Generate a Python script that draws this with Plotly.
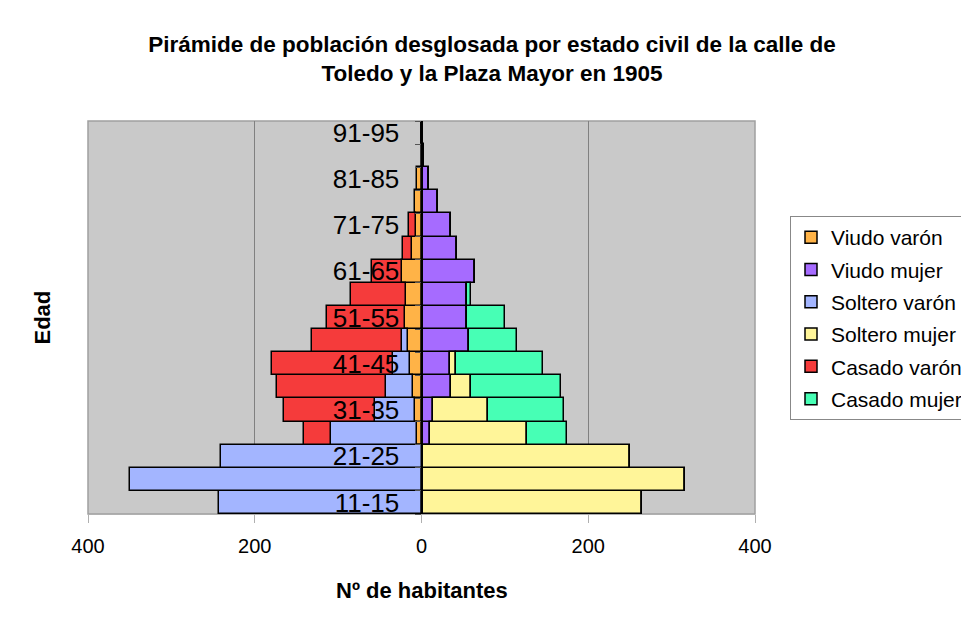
import plotly.graph_objects as go

categories = ["11-15", "16-20", "21-25", "26-30", "31-35", "36-40", "41-45", "46-50",
              "51-55", "56-60", "61-65", "66-70", "71-75", "76-80", "81-85", "86-90", "91-95"]
shown_labels = ["11-15", "21-25", "31-35", "41-45", "51-55", "61-65", "71-75", "81-85", "91-95"]

viudo_varon    = [0, 0, 0, 6, 8, 10, 14, 16, 20, 18, 23, 11, 7, 8, 5, 0, 0]
viudo_mujer    = [0, 1, 2, 10, 14, 35, 34, 57, 54, 54, 64, 43, 35, 20, 9, 3, 0]
soltero_varon  = [243, 350, 240, 103, 48, 33, 20, 7, 0, 0, 0, 0, 0, 0, 0, 0, 0]
soltero_mujer  = [265, 315, 248, 117, 66, 24, 7, 0, 0, 0, 0, 0, 0, 0, 0, 0, 0]
casado_varon   = [0, 0, 0, 32, 109, 130, 145, 108, 93, 67, 36, 11, 8, 0, 0, 0, 0]
casado_mujer   = [0, 0, 0, 47, 91, 108, 105, 57, 46, 5, 0, 0, 0, 0, 0, 0, 0]

x_tickvals = [-400, -200, 0, 200, 400]
x_ticktext = ["400", "200", "0", "200", "400"]

series = [
    ("Viudo varón", viudo_varon, -1, "#FFB347"),
    ("Viudo mujer", viudo_mujer, 1, "#A66BFF"),
    ("Soltero varón", soltero_varon, -1, "#A3B5FF"),
    ("Soltero mujer", soltero_mujer, 1, "#FFF599"),
    ("Casado varón", casado_varon, -1, "#F53B3B"),
    ("Casado mujer", casado_mujer, 1, "#47FFB5"),
]

fig = go.Figure()
for name, vals, sign, color in series:
    fig.add_trace(go.Bar(
        y=categories, x=[sign * v for v in vals], name=name, orientation="h",
        legendgroup=name,
        marker=dict(color=color, line=dict(color="black", width=1.5)),
    ))

W, H = 961, 617
L, R, T, B = 88, 206, 121, 103
pw, ph = W - L - R, H - T - B

fig.update_layout(
    width=W, height=H,
    barmode="relative", bargap=0,
    paper_bgcolor="white", plot_bgcolor="#C9C9C9",
    margin=dict(l=L, r=R, t=T, b=B, autoexpand=False),
    font=dict(family="Liberation Sans, Arial, sans-serif", color="black"),
    title=dict(
        text="<b>Pirámide de población desglosada por estado civil de la calle de<br>Toledo y la Plaza Mayor en 1905</b>",
        x=492 / W, xanchor="center", xref="container",
        y=1 - 52 / H, yanchor="top", yref="container",
        font=dict(size=22.5, family="Liberation Sans, Arial, sans-serif"),
    ),
    legend=dict(
        x=(790 - L) / pw, xanchor="left", y=(H - B - 216) / ph, yanchor="top",
        bgcolor="white", bordercolor="#888888", borderwidth=1,
        font=dict(size=21, family="Liberation Sans, Arial, sans-serif"),
        traceorder="grouped", tracegroupgap=2,
    ),
    xaxis=dict(
        range=[-400, 400], tickvals=x_tickvals, ticktext=x_ticktext,
        showgrid=True, gridcolor="#808080", gridwidth=1,
        zeroline=True, zerolinecolor="black", zerolinewidth=2,
        showline=True, linecolor="#B0B0B0", linewidth=1,
        ticks="outside", ticklen=8, tickcolor="#B0B0B0",
        tickfont=dict(size=20, family="Liberation Sans, Arial, sans-serif"),
        ticklabelstandoff=6,
    ),
    yaxis=dict(
        type="category", categoryorder="array", categoryarray=categories,
        anchor="free", position=0.5,
        tickvals=categories,
        ticktext=[c if c in shown_labels else "" for c in categories],
        tickson="boundaries", ticks="outside", ticklen=6, tickcolor="#555555",
        showline=True, linecolor="black", linewidth=2,
        showgrid=False, zeroline=False,
        tickfont=dict(size=26, family="Liberation Sans, Arial, sans-serif"),
        ticklabelstandoff=16,
    ),
    shapes=[dict(type="rect", xref="paper", yref="paper", x0=0, x1=1, y0=0, y1=1,
                 line=dict(color="#A0A0A0", width=1.5), layer="below")],
    annotations=[
        dict(text="<b>Edad</b>", textangle=-90, xref="paper", yref="paper",
             x=(42 - L) / pw, y=0.5, showarrow=False, xanchor="center", yanchor="middle",
             font=dict(size=22)),
        dict(text="<b>Nº de habitantes</b>", xref="paper", yref="paper",
             x=(422 - L) / pw, y=(H - B - 590) / ph, showarrow=False,
             xanchor="center", yanchor="middle", font=dict(size=22)),
    ],
)

fig.write_html("out.html", config={"displayModeBar": False},
               post_script="document.body.style.margin='0';")
